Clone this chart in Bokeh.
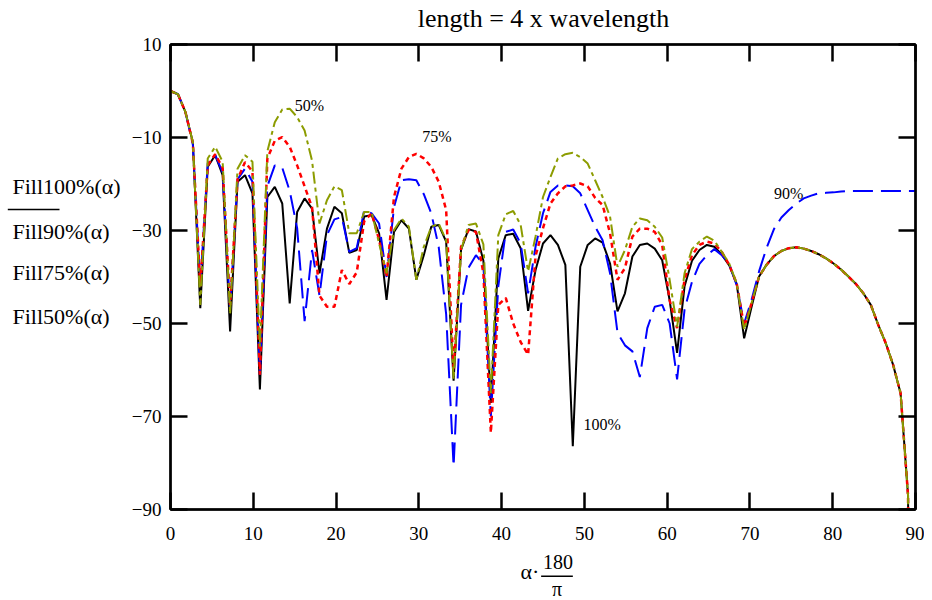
from bokeh.plotting import figure
from bokeh.layouts import row, column
from bokeh.models import FixedTicker, LinearAxis, Label, Range1d
from bokeh.embed import file_html
from bokeh.resources import INLINE

SERIF = "Liberation Serif"

# sampling grid: alpha*180/pi in degrees (0.9 degree steps)
angles = [round(0.9 * i, 1) for i in range(101)]

fill100 = [0.0, -0.7, -4.5, -11.0, -46.7, -16.3, -13.8, -18.1, -51.7, -19.5,
           -18.1, -22.0, -64.2, -22.8, -20.6, -24.2, -45.7, -26.0, -23.1, -25.3,
           -39.2, -29.6, -24.9, -26.3, -34.8, -34.2, -27.0, -26.7, -30.6, -44.9,
           -30.3, -27.8, -29.6, -40.6, -35.3, -29.2, -28.8, -32.4, -62.3, -34.2,
           -29.7, -30.2, -36.5, -67.1, -36.0, -31.0, -30.7, -33.8, -47.3, -38.5,
           -32.8, -31.0, -33.1, -37.4, -76.4, -37.8, -33.1, -31.7, -32.6, -37.1,
           -47.4, -43.5, -35.6, -33.1, -32.8, -33.9, -36.4, -45.0, -56.3, -42.0,
           -36.5, -34.2, -33.1, -33.5, -35.2, -37.5, -41.5, -53.2, -46.4, -39.9,
           -37.4, -35.5, -34.4, -33.8, -33.6, -33.9, -34.4, -35.1, -36.0, -37.1,
           -38.4, -39.9, -41.5, -43.5, -46.0, -50.3, -54.2, -58.9, -65.0, -87.0,
           -300.0]

fill90 = [0.0, -0.7, -4.5, -11.5, -42.0, -15.5, -13.8, -17.5, -47.0, -19.0,
          -16.7, -19.5, -61.0, -20.5, -16.0, -16.5, -21.5, -29.5, -49.5, -34.2,
          -44.0, -31.0, -27.6, -27.1, -34.6, -33.8, -25.6, -26.3, -28.5, -40.0,
          -25.0, -19.2, -19.0, -19.2, -22.2, -26.3, -33.5, -48.0, -80.7, -46.0,
          -38.0, -35.3, -37.3, -70.0, -42.0, -30.3, -29.8, -32.8, -43.5, -33.5,
          -26.3, -21.7, -20.3, -20.3, -20.5, -22.0, -25.6, -29.2, -32.1, -39.2,
          -52.0, -54.7, -56.0, -61.5, -51.0, -46.4, -46.0, -50.0, -62.0, -47.0,
          -41.0, -37.2, -35.3, -34.0, -35.3, -37.2, -41.8, -50.0, -44.9, -38.8,
          -33.8, -29.7, -27.2, -25.6, -24.2, -23.1, -22.5, -22.0, -21.9, -21.8,
          -21.6, -21.5, -21.5, -21.5, -21.5, -21.5, -21.5, -21.5, -21.5, -21.5,
          -21.5]

fill75 = [0.0, -0.7, -4.5, -11.2, -42.0, -16.0, -13.6, -16.5, -46.0, -19.0,
          -15.3, -17.3, -61.0, -14.5, -10.7, -9.9, -12.0, -16.0, -20.5, -25.0,
          -44.0, -46.4, -46.4, -38.5, -41.5, -39.0, -28.0, -26.3, -32.0, -40.0,
          -22.8, -16.7, -14.2, -13.5, -14.5, -16.3, -19.5, -25.6, -60.0, -33.5,
          -29.9, -30.3, -39.2, -73.5, -46.0, -44.5, -50.0, -54.0, -56.7, -35.5,
          -29.5, -24.2, -22.0, -20.5, -20.3, -19.9, -20.5, -23.0, -24.5, -30.6,
          -40.6, -38.1, -31.3, -29.6, -29.6, -30.3, -33.1, -45.0, -51.0, -40.6,
          -35.3, -33.1, -32.4, -32.8, -34.6, -37.4, -41.4, -50.7, -45.6, -39.9,
          -37.4, -35.5, -34.4, -33.8, -33.6, -33.9, -34.4, -35.1, -36.0, -37.1,
          -38.4, -39.9, -41.5, -43.5, -46.0, -50.3, -54.2, -58.9, -65.0, -87.0,
          -300.0]

fill50 = [0.0, -0.7, -4.5, -11.0, -46.0, -14.5, -12.0, -15.2, -48.0, -16.7,
          -13.8, -15.2, -55.0, -13.0, -6.7, -4.0, -3.8, -5.6, -8.5, -15.0,
          -28.5, -23.5, -20.5, -21.3, -30.6, -30.6, -26.0, -26.0, -32.8, -39.2,
          -29.9, -27.4, -29.2, -40.6, -33.5, -29.2, -28.5, -32.1, -62.0, -34.2,
          -28.8, -28.5, -33.0, -65.0, -31.0, -26.5, -25.8, -28.8, -38.8, -31.3,
          -22.8, -18.5, -14.5, -13.6, -13.3, -14.2, -15.6, -19.2, -22.8, -27.0,
          -37.8, -34.2, -29.2, -27.4, -27.8, -29.2, -31.5, -40.6, -50.7, -39.2,
          -34.0, -32.4, -31.3, -32.2, -34.6, -37.1, -41.4, -51.4, -45.6, -39.9,
          -37.4, -35.5, -34.4, -33.8, -33.6, -33.9, -34.4, -35.1, -36.0, -37.1,
          -38.4, -39.9, -41.5, -43.5, -46.0, -50.3, -54.2, -58.9, -65.0, -87.0,
          -300.0]

x_ticks = [0, 10, 20, 30, 40, 50, 60, 70, 80, 90]
y_ticks = [10, -10, -30, -50, -70, -90]
y_tick_text = ["10", "\u221210", "\u221230", "\u221250", "\u221270", "\u221290"]
title_text = "length = 4 x wavelength"
series_names = ["Fill100%(\u03b1)", "Fill90%(\u03b1)", "Fill75%(\u03b1)", "Fill50%(\u03b1)"]
curve_tags = ["50%", "75%", "90%", "100%"]

# ---- layout sizes (px); the page has no margin ----
BL, BR, BT, BB = 45, 9, 11, 42         # main figure borders
FW, FH = 745, 465                      # main frame
WS = 799                               # width of title / x-label strips
HM = BT + FH + BB                      # 518
HT = 33                                # title strip
HB = 600 - HT - HM                     # x-label strip (49)
WL = 170 - BL                          # y-label strip (125)
PX_PER_Y = FH / 100.0
BASE_FIX = 0.33                        # renderer draws 'alphabetic' text ~0.33em low
DX = -17.5                             # measured offset of the strips inside the column


def text_strip(w, h):
    f = figure(width=w, height=h, x_range=Range1d(0, w), y_range=Range1d(h, 0),
               x_axis_type=None, y_axis_type=None, output_backend="svg",
               toolbar_location=None, tools="", min_border=0, align="start")
    f.min_border_left = f.min_border_right = f.min_border_top = f.min_border_bottom = 0
    f.grid.visible = False
    f.outline_line_color = None
    f.background_fill_color = "white"
    f.border_fill_color = "white"
    return f


def strip_lab(fig, x, y, txt, size, align="left"):
    fig.add_layout(Label(x=x, y=y - BASE_FIX * size, text=txt, text_align=align,
                         text_baseline="alphabetic", text_font=SERIF,
                         text_font_size=f"{size}px", text_color="black"))


def data_lab(fig, x, y, txt, size, align="left"):
    fig.add_layout(Label(x=x, y=y + BASE_FIX * size / PX_PER_Y, text=txt, text_align=align,
                         text_baseline="alphabetic", text_font=SERIF,
                         text_font_size=f"{size}px", text_color="black"))


# ---- main plot ----
p = figure(frame_width=FW, frame_height=FH,
           min_border_left=BL, min_border_right=BR, min_border_top=BT, min_border_bottom=BB,
           x_range=Range1d(0, 90), y_range=Range1d(-90, 10),
           output_backend="svg", toolbar_location=None, tools="", align="start")
p.grid.visible = False
p.background_fill_color = "white"
p.border_fill_color = "white"
p.outline_line_color = "black"
p.outline_line_width = 2


def style_axis(ax, show_labels=True):
    ax.axis_line_color = "black"
    ax.axis_line_width = 2.5
    ax.major_tick_line_color = "black"
    ax.major_tick_line_width = 2.5
    ax.major_tick_in = 17
    ax.major_tick_out = 0
    ax.minor_tick_in = 0
    ax.minor_tick_out = 0
    ax.major_label_text_font = SERIF
    if show_labels:
        ax.major_label_text_color = "black"
        ax.major_label_text_font_size = "19px"
    else:
        ax.major_label_text_color = None
        ax.major_label_text_font_size = "1px"
        ax.major_label_standoff = 0


p.xaxis.ticker = FixedTicker(ticks=x_ticks)
p.yaxis.ticker = FixedTicker(ticks=y_ticks)
p.yaxis.major_label_overrides = {t: s for t, s in zip(y_ticks, y_tick_text)}
style_axis(p.xaxis[0])
style_axis(p.yaxis[0])
p.xaxis.major_label_standoff = 17
p.yaxis.major_label_standoff = 9

top_axis = LinearAxis(ticker=FixedTicker(ticks=x_ticks))
style_axis(top_axis, show_labels=False)
p.add_layout(top_axis, "above")
right_axis = LinearAxis(ticker=FixedTicker(ticks=y_ticks))
style_axis(right_axis, show_labels=False)
p.add_layout(right_axis, "right")

p.line(angles, fill100, line_color="black", line_width=2)
p.line(angles, fill90, line_color="#0000ff", line_width=2, line_dash="20 8")
p.line(angles, fill75, line_color="#ff0000", line_width=2.5, line_dash="5 4")
p.line(angles, fill50, line_color="#8c9c00", line_width=2, line_dash="12 4 4 4")

for txt, xl, yb in zip(curve_tags, [15.0, 30.4, 72.9, 49.9], [-4.2, -11.0, -23.1, -72.8]):
    data_lab(p, xl, yb, txt, 16)

# ---- title strip ----
t = text_strip(WS, HT)
strip_lab(t, BL + FW / 2 + DX, 27, title_text, 26, align="center")

# ---- x-label strip: alpha * 180 / pi ----
b = text_strip(WS, HB)
strip_lab(b, 403 + DX, 27.5, "\u03b1\u00b7", 22, align="center")
strip_lab(b, 433 + DX, 17.5, "180", 20, align="center")
b.segment(x0=[415 + DX], y0=[24.7], x1=[449 + DX], y1=[24.7], line_color="black", line_width=1.6)
strip_lab(b, 432 + DX, 44, "\u03c0", 20, align="center")

# ---- y-label strip (Mathcad-style stacked names) ----
l = text_strip(WL, 600)
for name, yb in zip(series_names, [193.3, 238.0, 279.5, 323.0]):
    strip_lab(l, 12.0, yb, name, 22)
l.segment(x0=[7.3], y0=[209], x1=[59], y1=[209], line_color="black", line_width=1.6)

layout = row(l, column(t, p, b, spacing=0, align="start"), spacing=0)

open("out.html", "w").write(file_html(layout, INLINE))
